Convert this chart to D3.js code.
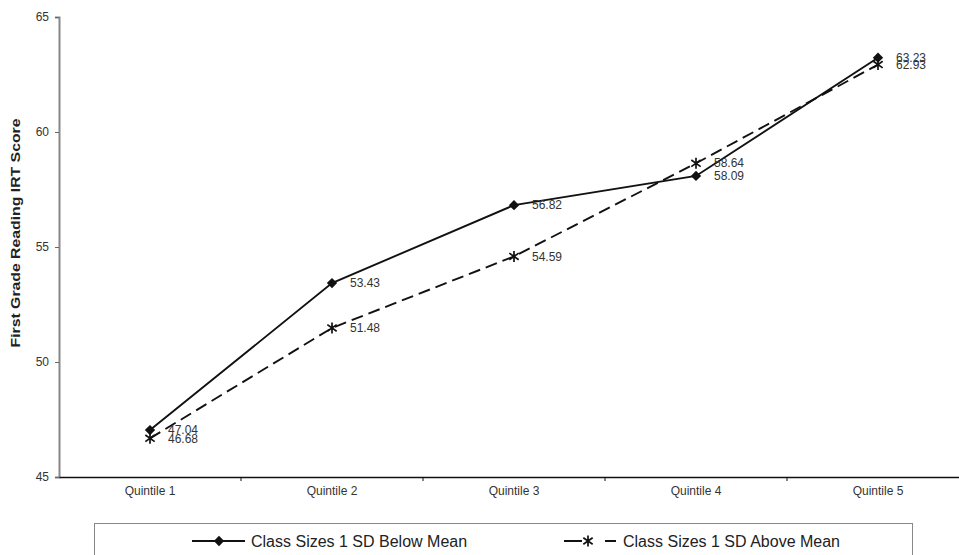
<!DOCTYPE html>
<html>
<head>
<meta charset="utf-8">
<script src="https://cdn.jsdelivr.net/npm/d3@7"></script>
<style>
  body { margin: 0; background: #fff; }
  svg { font-family: "Liberation Sans", Arial, sans-serif; }
</style>
</head>
<body>
<div id="chart"></div>
<script>
// chart values
const categories = ["Quintile 1", "Quintile 2", "Quintile 3", "Quintile 4", "Quintile 5"];
const belowMean = [47.04, 53.43, 56.82, 58.09, 63.23];
const aboveMean = [46.68, 51.48, 54.59, 58.64, 62.93];
const yTicks = [45, 50, 55, 60, 65];
const seriesNames = ["Class Sizes 1 SD Below Mean", "Class Sizes 1 SD Above Mean"];

const width = 959, height = 555;
const plot = { left: 59, right: 969, top: 17, bottom: 477 };

const svg = d3.select("#chart").append("svg")
  .attr("width", width)
  .attr("height", height);

const x = d3.scaleBand()
  .domain(categories)
  .range([plot.left, plot.right]);

const y = d3.scaleLinear()
  .domain([45, 65])
  .range([plot.bottom, plot.top]);

const cx = (i) => x(categories[i]) + x.bandwidth() / 2;

// y axis
const yAxis = svg.append("g")
  .attr("transform", `translate(${plot.left},0)`)
  .call(d3.axisLeft(y).tickValues(yTicks).tickSize(4).tickPadding(6));
yAxis.select(".domain").attr("stroke", "#888").attr("stroke-width", 2);
yAxis.selectAll(".tick line").attr("stroke", "#666");
yAxis.selectAll(".tick text").attr("fill", "#333").style("font-size", "12px");

// x axis
const xAxis = svg.append("g")
  .attr("transform", `translate(0,${plot.bottom})`)
  .call(d3.axisBottom(x).tickSize(0).tickPadding(9));
xAxis.select(".domain").attr("stroke", "#111").attr("stroke-width", 1.3);
xAxis.selectAll(".tick text").attr("fill", "#333").style("font-size", "12px");

xAxis.selectAll(".sep")
  .data(categories.slice(1))
  .enter().append("line")
  .attr("class", "sep")
  .attr("x1", (d) => x(d)).attr("x2", (d) => x(d))
  .attr("y1", 0).attr("y2", 4)
  .attr("stroke", "#111");

// y title
svg.append("text")
  .attr("transform", "translate(20,233) rotate(-90)")
  .attr("text-anchor", "middle")
  .style("font-size", "12px")
  .style("font-weight", "bold")
  .attr("fill", "#222")
  .attr("textLength", 229)
  .attr("lengthAdjust", "spacingAndGlyphs")
  .text("First Grade Reading IRT Score");

const line = d3.line()
  .x((d, i) => cx(i))
  .y((d) => y(d));

const diamondPath = d3.symbol().type(d3.symbolDiamond2).size(68);

function starPath(s) {
  const p = d3.path();
  p.moveTo(0, -s); p.lineTo(0, s);
  p.moveTo(-s * 0.85, -s * 0.6); p.lineTo(s * 0.85, s * 0.6);
  p.moveTo(s * 0.85, -s * 0.6); p.lineTo(-s * 0.85, s * 0.6);
  return p.toString();
}

// below mean series
svg.append("path")
  .datum(belowMean)
  .attr("d", line)
  .attr("fill", "none")
  .attr("stroke", "#111")
  .attr("stroke-width", 1.9);

svg.selectAll(".diamond")
  .data(belowMean)
  .enter().append("path")
  .attr("class", "diamond")
  .attr("transform", (d, i) => `translate(${cx(i)},${y(d)})`)
  .attr("d", diamondPath)
  .attr("fill", "#111");

// above mean series
svg.append("path")
  .datum(aboveMean)
  .attr("d", line)
  .attr("fill", "none")
  .attr("stroke", "#111")
  .attr("stroke-width", 1.9)
  .attr("stroke-dasharray", "12,6");

svg.selectAll(".star")
  .data(aboveMean)
  .enter().append("path")
  .attr("class", "star")
  .attr("transform", (d, i) => `translate(${cx(i)},${y(d)})`)
  .attr("d", starPath(5.5))
  .attr("fill", "none")
  .attr("stroke", "#111")
  .attr("stroke-width", 1.7);

// data labels
const labels = belowMean.map((v, i) => ({ v, i }))
  .concat(aboveMean.map((v, i) => ({ v, i })));

svg.selectAll(".val")
  .data(labels)
  .enter().append("text")
  .attr("class", "val")
  .attr("x", (d) => cx(d.i) + 18)
  .attr("y", (d) => y(d.v))
  .attr("dy", "0.35em")
  .style("font-size", "12px")
  .attr("fill", "#333")
  .text((d) => d.v.toFixed(2));

// legend
const legend = svg.append("g");
legend.append("rect")
  .attr("x", 94.5).attr("y", 523.5)
  .attr("width", 818).attr("height", 60)
  .attr("fill", "none")
  .attr("stroke", "#888");

const ly = 541;
legend.append("line")
  .attr("x1", 192).attr("x2", 245).attr("y1", ly).attr("y2", ly)
  .attr("stroke", "#111").attr("stroke-width", 1.9);
legend.append("path")
  .attr("transform", `translate(219,${ly})`)
  .attr("d", diamondPath)
  .attr("fill", "#111");
legend.append("text")
  .attr("x", 251).attr("y", ly).attr("dy", "0.35em")
  .style("font-size", "16px").attr("fill", "#222")
  .text(seriesNames[0]);

legend.append("line")
  .attr("x1", 564).attr("x2", 616).attr("y1", ly).attr("y2", ly)
  .attr("stroke", "#111").attr("stroke-width", 1.9)
  .attr("stroke-dasharray", "18,23,11");
legend.append("path")
  .attr("transform", `translate(588,${ly})`)
  .attr("d", starPath(5.5))
  .attr("fill", "none").attr("stroke", "#111").attr("stroke-width", 1.7);
legend.append("text")
  .attr("x", 623).attr("y", ly).attr("dy", "0.35em")
  .style("font-size", "16px").attr("fill", "#222")
  .text(seriesNames[1]);
</script>
</body>
</html>
